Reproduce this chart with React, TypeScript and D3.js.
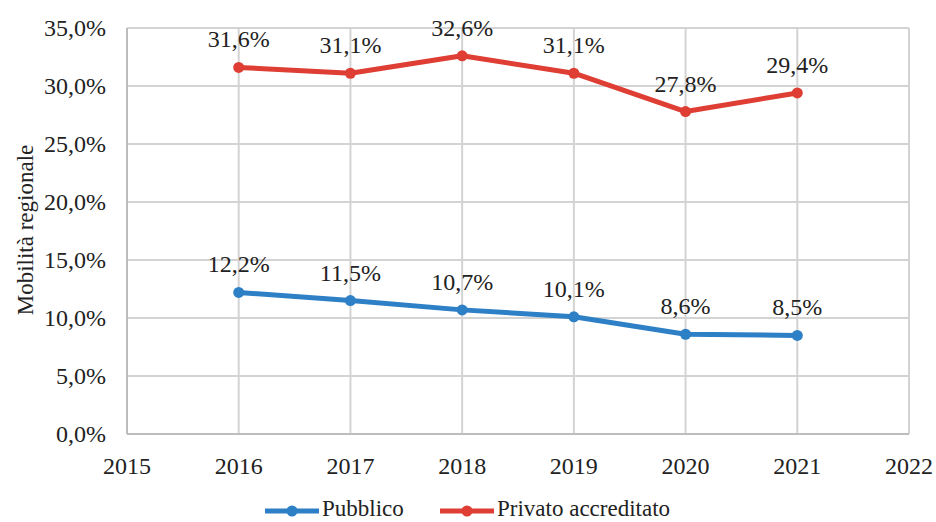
import React from "react";
import * as d3 from "d3";

const years = [2016, 2017, 2018, 2019, 2020, 2021];
const pubblico = [12.2, 11.5, 10.7, 10.1, 8.6, 8.5];
const privato = [31.6, 31.1, 32.6, 31.1, 27.8, 29.4];
const xTicks = [2015, 2016, 2017, 2018, 2019, 2020, 2021, 2022];
const yTicks = [0, 5, 10, 15, 20, 25, 30, 35];
const seriesNames = ["Pubblico", "Privato accreditato"];
const colors = ["#2d7fc6", "#de3e33"];

const W = 936;
const H = 522;
const FONT = "Liberation Serif";
const fmt = (v: number) => v.toFixed(1).replace(".", ",") + "%";

export default function App() {
  const x = d3.scaleLinear().domain([2015, 2022]).range([127, 909]);
  const y = d3.scaleLinear().domain([0, 35]).range([434, 28]);
  const line = d3
    .line<number>()
    .x((_, i) => x(years[i]))
    .y((d) => y(d));
  const series = [pubblico, privato];
  const legendX = [265, 440];

  return (
    <div style={{ position: "absolute", left: 0, top: 0, width: W, height: H }}>
      <svg width={W} height={H} fontFamily={FONT}>
        <rect x={0} y={0} width={W} height={H} fill="#fff" />
        {yTicks.map((t) => (
          <line
            key={"gy" + t}
            x1={x(2015)}
            x2={x(2022)}
            y1={y(t)}
            y2={y(t)}
            stroke="#d3d3d3"
            strokeWidth={2}
          />
        ))}
        {xTicks.map((t) => (
          <line
            key={"gx" + t}
            x1={x(t)}
            x2={x(t)}
            y1={y(0)}
            y2={y(35)}
            stroke="#d3d3d3"
            strokeWidth={2}
          />
        ))}
        <line x1={x(2015)} x2={x(2015)} y1={y(0)} y2={y(35)} stroke="#bdbdbd" strokeWidth={2} />
        <line x1={x(2015)} x2={x(2022)} y1={y(0)} y2={y(0)} stroke="#bdbdbd" strokeWidth={2} />
        {yTicks.map((t) => (
          <text
            key={"ty" + t}
            x={106}
            y={y(t) + 8}
            textAnchor="end"
            fontSize={24}
            fill="#222"
            fontFamily={FONT}
          >
            {fmt(t)}
          </text>
        ))}
        {xTicks.map((t) => (
          <text
            key={"tx" + t}
            x={x(t)}
            y={474}
            textAnchor="middle"
            fontSize={24}
            fill="#222"
            fontFamily={FONT}
          >
            {t}
          </text>
        ))}
        <text
          transform={`translate(33, 230) rotate(-90)`}
          textAnchor="middle"
          fontSize={23}
          fill="#222"
          fontFamily={FONT}
        >
          Mobilità regionale
        </text>
        {series.map((s, si) => (
          <g key={"s" + si}>
            <path d={line(s) || ""} fill="none" stroke={colors[si]} strokeWidth={5} strokeLinejoin="round" />
            {s.map((v, i) => (
              <circle key={i} cx={x(years[i])} cy={y(v)} r={5.5} fill={colors[si]} />
            ))}
            {s.map((v, i) => (
              <text
                key={"l" + i}
                x={x(years[i])}
                y={y(v) - 20}
                textAnchor="middle"
                fontSize={24}
                fill="#222"
                fontFamily={FONT}
              >
                {fmt(v)}
              </text>
            ))}
          </g>
        ))}
        {seriesNames.map((n, si) => (
          <g key={"lg" + si}>
            <line
              x1={legendX[si]}
              x2={legendX[si] + 54}
              y1={511}
              y2={511}
              stroke={colors[si]}
              strokeWidth={5}
            />
            <circle cx={legendX[si] + 27} cy={511} r={5.5} fill={colors[si]} />
            <text x={legendX[si] + 57} y={516} fontSize={23} fill="#222" fontFamily={FONT}>
              {n}
            </text>
          </g>
        ))}
      </svg>
    </div>
  );
}
